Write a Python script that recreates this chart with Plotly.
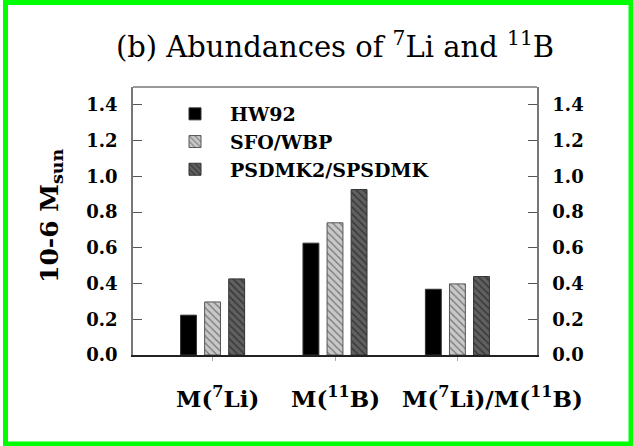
import plotly.graph_objects as go

categories = [0, 1, 2]
cat_labels = ["M(<sup>7</sup>Li)", "M(<sup>11</sup>B)", "M(<sup>7</sup>Li)/M(<sup>11</sup>B)"]
series_names = ["HW92", "SFO/WBP", "PSDMK2/SPSDMK"]
hw92 = [0.223, 0.626, 0.368]
sfo_wbp = [0.297, 0.740, 0.398]
psdmk = [0.426, 0.926, 0.439]
y_ticks = [0.0, 0.2, 0.4, 0.6, 0.8, 1.0, 1.2, 1.4]

W, H = 633, 446
L, R, T, B = 133, 537, 87, 355

def px(xp):
    return (xp - L) / (R - L)

def py(yp):
    return (B - yp) / (B - T)

FONT = "DejaVu Serif"

fig = go.Figure()
styles = [
    dict(color="#000000", line=dict(color="#333333", width=1)),
    dict(color="#c8c8c8", line=dict(color="#555555", width=1),
         pattern=dict(shape="\\", fgcolor="#222222", size=5, solidity=0.25, fillmode="overlay")),
    dict(color="#606060", line=dict(color="#333333", width=1),
         pattern=dict(shape="\\", fgcolor="#111111", size=5, solidity=0.3, fillmode="overlay")),
]
for name, vals, st in zip(series_names, [hw92, sfo_wbp, psdmk], styles):
    fig.add_trace(go.Bar(x=categories, y=vals, name=name, marker=st))

fig.add_trace(go.Scatter(x=[categories[0]], y=[0], yaxis="y2", mode="markers",
                         marker=dict(opacity=0), showlegend=False, hoverinfo="skip"))

tickfont = dict(family=FONT, size=18, color="#000000", weight="bold")
fig.update_layout(
    width=W, height=H,
    margin=dict(l=L, r=W - R, t=T, b=H - B),
    paper_bgcolor="white", plot_bgcolor="white",
    font=dict(family=FONT),
    barmode="group", bargap=0.41, bargroupgap=0.34,
    showlegend=True,
    legend=dict(x=px(160), y=py(95), xanchor="left", yanchor="top",
                bgcolor="rgba(0,0,0,0)", itemwidth=60, tracegroupgap=0,
                font=dict(family=FONT, size=19, color="#000000", weight="bold")),
    title=dict(text="(b) Abundances of <sup>7</sup>Li and <sup>11</sup>B",
               x=0.5, xref="paper", xanchor="center", y=1 - 47 / H, yanchor="middle",
               font=dict(family=FONT, size=29, color="#000000")),
    xaxis=dict(range=[-0.65, 2.65], tickvals=categories, ticktext=["", "", ""],
               ticks="outside", ticklen=4, tickcolor="#aaaaaa", tickwidth=1,
               showline=True, linecolor="#222222", linewidth=1.5, mirror=False,
               showgrid=False, zeroline=False),
    yaxis=dict(range=[0, 1.5], tickvals=y_ticks, ticktext=[f"{v:.1f}" for v in y_ticks],
               ticks="inside", ticklen=9, tickcolor="#555555", tickwidth=1,
               ticklabelstandoff=10,
               showline=True, linecolor="#777777", linewidth=1.5,
               showgrid=False, zeroline=False, tickfont=tickfont),
    yaxis2=dict(range=[0, 1.5], tickvals=y_ticks, ticktext=[f"{v:.1f}" for v in y_ticks],
                overlaying="y", side="right", anchor="x",
                ticks="inside", ticklen=9, tickcolor="#555555", tickwidth=1,
                ticklabelstandoff=10,
                showline=True, linecolor="#777777", linewidth=1.5,
                showgrid=False, zeroline=False, tickfont=tickfont),
)

fig.add_shape(type="line", xref="paper", yref="paper", x0=0, x1=1, y0=1, y1=1,
              line=dict(color="#777777", width=1.5))

fig.add_annotation(text="10-6 M<sub>sun</sub>", xref="paper", yref="paper",
                   x=px(51), y=py(216), xanchor="center", yanchor="middle",
                   textangle=-90, showarrow=False,
                   font=dict(family=FONT, size=25, color="#000000", weight="bold"))

label_shift = [5, 0, 35]
for c, lab, sh in zip(categories, cat_labels, label_shift):
    fig.add_annotation(text=lab, x=c, xref="x", yref="paper", y=py(397),
                       xanchor="center", yanchor="middle", xshift=sh, showarrow=False,
                       font=dict(family=FONT, size=23, color="#000000", weight="bold"))

fig.add_shape(type="rect", xref="paper", yref="paper",
              x0=px(5.5), x1=px(631), y0=py(2.5), y1=py(444),
              line=dict(color="#00ff00", width=5), fillcolor="rgba(0,0,0,0)", layer="above")

fig.write_html("out.html")
